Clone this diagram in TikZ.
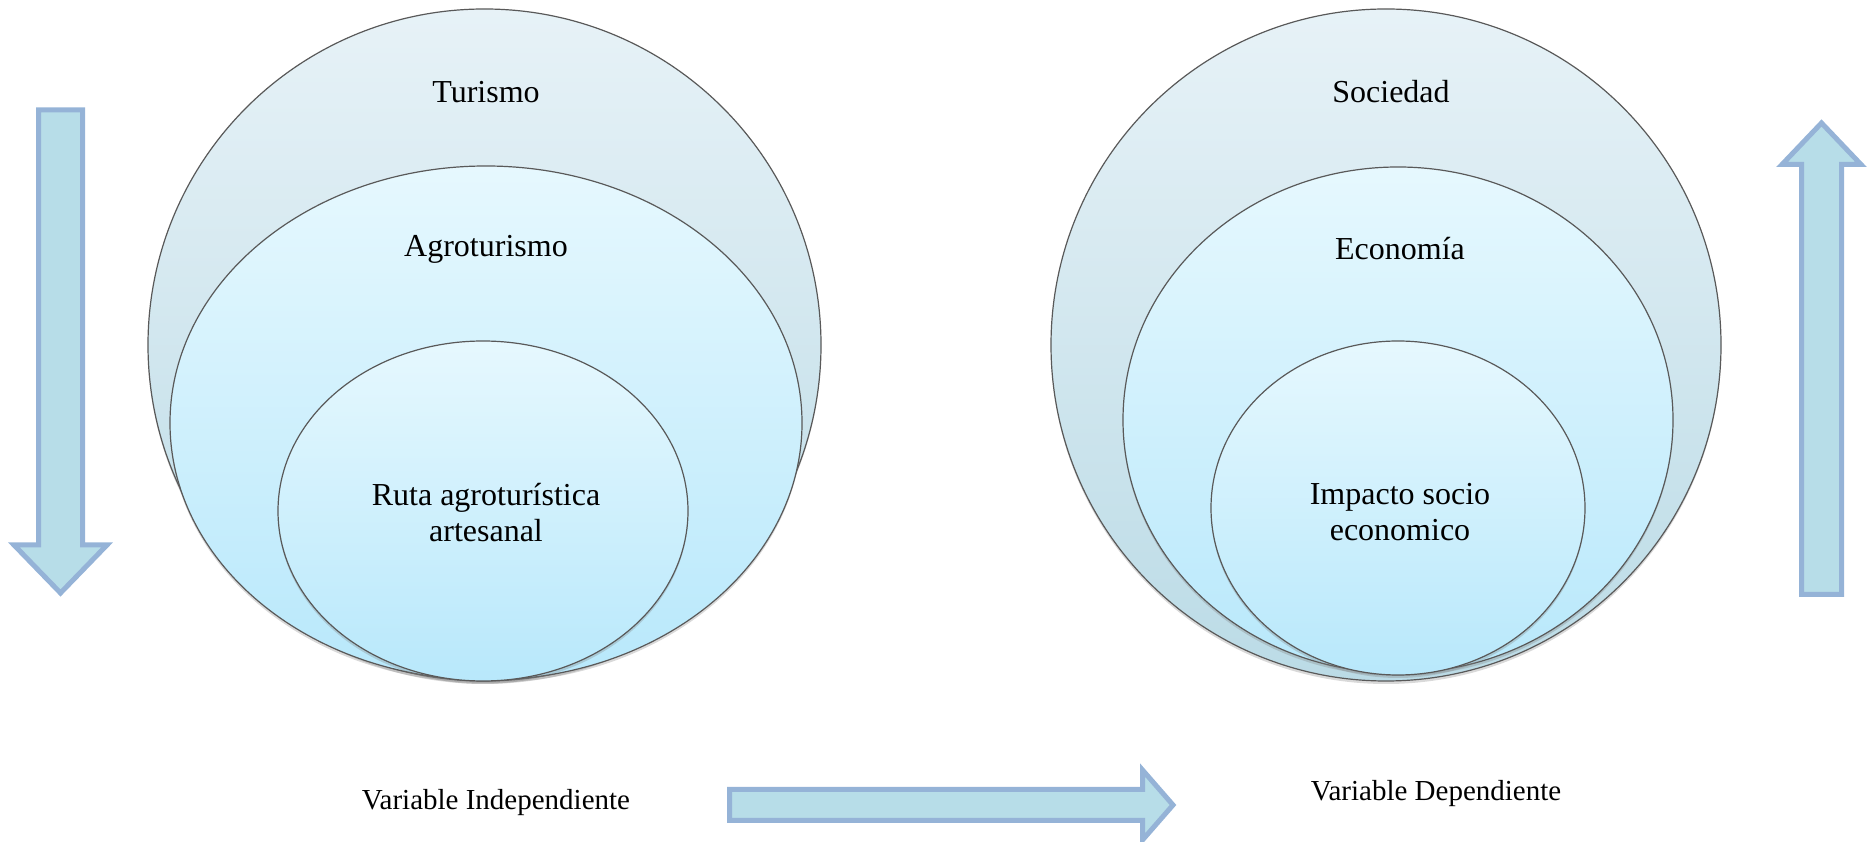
\documentclass[tikz,border=0pt]{standalone}
\usepackage{fontspec}
\setmainfont{Liberation Serif}
\usepackage{tikz}
\usetikzlibrary{arrows.meta}
\usetikzlibrary{shapes, shadows}
\definecolor{outertop}{HTML}{E7F2F7}
\definecolor{outerbot}{HTML}{BBDBE6}
\definecolor{innertop}{HTML}{E6F8FE}
\definecolor{innerbot}{HTML}{B8E8FB}
\definecolor{arrowfill}{HTML}{B7DDE8}
\definecolor{arrowline}{HTML}{95B3D7}

\begin{document}
\begin{tikzpicture}[>=latex,line join=bevel,
  ring/.style={ellipse,draw=black!65,line width=0.6bp,inner sep=0pt,
    drop shadow={opacity=0.3,shadow xshift=0bp,shadow yshift=-1.5bp}},
  outer/.style={ring,top color=outertop,bottom color=outerbot},
  inner/.style={ring,top color=innertop,bottom color=innerbot},
  blockarrow/.style={draw=arrowline,fill=arrowfill,line width=2.5bp,line join=miter},
  lbl/.style={font=\fontsize{16bp}{18bp}\selectfont,align=center,inner sep=0pt},
  small/.style={font=\fontsize{14.5bp}{16bp}\selectfont,inner sep=0pt},
]
\useasboundingbox (0bp,0bp) rectangle (935.5bp,421bp);
%%
\node (ring_0) at (242.25bp,248.5bp) [outer,minimum width=336.5bp,minimum height=336bp] {};
  \node (ring_1) at (243bp,209.5bp) [inner,minimum width=316bp,minimum height=257bp] {};
  \node (ring_2) at (241.5bp,165.5bp) [inner,minimum width=205bp,minimum height=170bp] {};
  \node (ring_3) at (693bp,248.5bp) [outer,minimum width=335bp,minimum height=336bp] {};
  \node (ring_4) at (699bp,211bp) [inner,minimum width=275bp,minimum height=253bp] {};
  \node (ring_5) at (699bp,167bp) [inner,minimum width=187bp,minimum height=167bp] {};
%
\node (text_0) at (243bp,375bp) [lbl] {Turismo};
  \node (text_1) at (243bp,296.5bp) [lbl] {Agroturismo};
  \node (text_2) at (243bp,164.5bp) [lbl] {Ruta agroturística\\artesanal};
  \node (text_3) at (695.5bp,375bp) [lbl] {Sociedad};
  \node (text_4) at (700bp,296.5bp) [lbl] {Economía};
  \node (text_5) at (700bp,165bp) [lbl] {Impacto socio\\economico};
  \node (text_6) at (248bp,19.5bp) [small] {Variable Independiente};
  \node (text_7) at (718bp,24bp) [small] {Variable Dependiente};
%
\draw [blockarrow] (19.25bp,366bp) -- (41.25bp,366bp) -- (41.25bp,148.5bp) -- (53.5bp,148.5bp)
  -- (30.25bp,124.5bp) -- (7bp,148.5bp) -- (19.25bp,148.5bp) -- cycle;
\draw [blockarrow] (900.75bp,123.75bp) -- (920.75bp,123.75bp) -- (920.75bp,338.75bp) -- (930.5bp,338.75bp)
  -- (910.75bp,359.5bp) -- (891bp,338.75bp) -- (900.75bp,338.75bp) -- cycle;
\draw [blockarrow] (364.75bp,26.25bp) -- (571.25bp,26.25bp) -- (571.25bp,36bp) -- (586.5bp,18.5bp)
  -- (571.25bp,1bp) -- (571.25bp,10.75bp) -- (364.75bp,10.75bp) -- cycle;
%
\end{tikzpicture}
\end{document}
